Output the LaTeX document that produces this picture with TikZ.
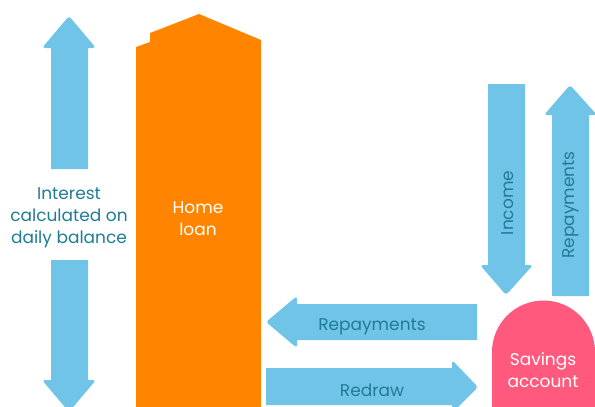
\documentclass[tikz,border=0pt]{standalone}
\usepackage{fontspec}
\setmainfont{Poppins}
\definecolor{flowblue}{HTML}{70C4E8}
\definecolor{flowtext}{HTML}{1F7C96}
\definecolor{loanorange}{HTML}{FF8500}
\definecolor{savepink}{HTML}{FF5A7E}
\tikzset{
  flow/.style={fill=flowblue},
  tag/.style={text=flowtext, font=\fontsize{17}{22}\selectfont, align=center, inner sep=0pt},
  whitetag/.style={text=white, font=\fontsize{17}{22}\selectfont, align=center, inner sep=0pt}
}
\begin{document}
\begin{tikzpicture}[x=1pt,y=-1pt]
      \useasboundingbox (0,0) rectangle (595,407);
      % interest, up and down
      \fill[flow] (51,169) -- (51,48) [rounded corners=3pt] -- (42,48) -- (69,16) -- (96,48) [sharp corners] -- (88,48) -- (88,169) -- cycle;
      \fill[flow] (51,260) -- (51,380) [rounded corners=3pt] -- (42,380) -- (69,412) -- (96,380) [sharp corners] -- (88,380) -- (88,260) -- cycle;
      \node[tag] (interest) at (69,218) {Interest\\calculated on\\daily balance};
      % home loan
      \fill[loanorange] (136,410) -- (136,47) -- (150,42) -- (150,33) -- (199,14) -- (261,40) -- (261,410) -- cycle;
      \node[whitetag] (loan) at (198,219) {Home\\loan};
      % savings account
      \fill[savepink] (492,410) -- (492,352) arc[start angle=180, end angle=0, radius=51.5pt] -- (595,410) -- cycle;
      \node[whitetag] (savings) at (543,370) {Savings\\account};
      % income and repayments
      \fill[flow] (488,84) -- (488,265) [rounded corners=3pt] -- (480,265) -- (506,295) -- (533,265) [sharp corners] -- (525,265) -- (525,84) -- cycle;
      \node[tag, rotate=90] (income) at (508,203) {Income};
      \fill[flow] (552,296) -- (552,115) [rounded corners=3pt] -- (544,115) -- (570,85) -- (597,115) [sharp corners] -- (589,115) -- (589,296) -- cycle;
      \node[tag, rotate=90] (repayup) at (571,205) {Repayments};
      % repayments and redraw
      \fill[flow] (477,304) -- (297,304) [rounded corners=3pt] -- (297,296) -- (266,322) -- (297,348) [sharp corners] -- (297,340) -- (477,340) -- cycle;
      \node[tag] (repayleft) at (372,327) {Repayments};
      \fill[flow] (266,368) -- (452,368) [rounded corners=3pt] -- (452,360) -- (478,387) -- (452,413) [sharp corners] -- (452,405) -- (266,405) -- cycle;
      \node[tag] (redraw) at (372,390) {Redraw};
    \end{tikzpicture}
\end{document}
